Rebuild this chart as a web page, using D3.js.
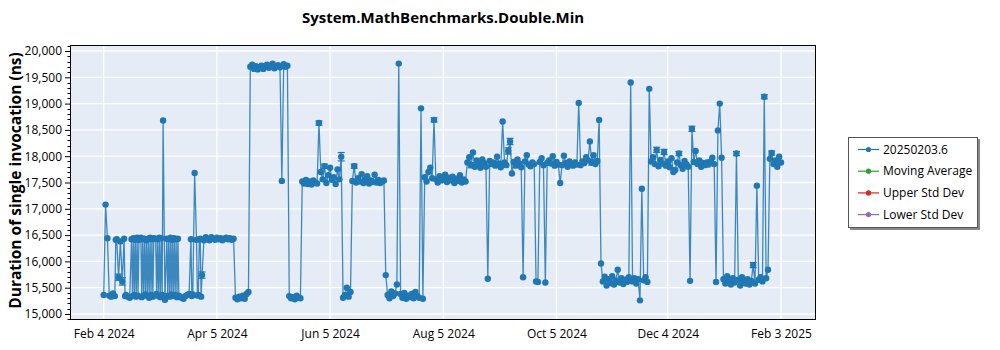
<!DOCTYPE html>
<html>
<head>
<meta charset="utf-8">
<script src="https://cdn.jsdelivr.net/npm/d3@7"></script>
<style>
  body { margin: 0; background: #ffffff; }
  text { font-family: "Open Sans", "Noto Sans", sans-serif; fill: #000; }
</style>
</head>
<body>
<svg id="chart" width="1000" height="350"></svg>
<script>
// ---- chart data ----
const chartTitle = "System.MathBenchmarks.Double.Min";
const yAxisTitle = "Duration of single invocation (ns)";
const legendNames = ["20250203.6", "Moving Average", "Upper Std Dev", "Lower Std Dev"];
const legendColors = ["#1f77b4", "#2ca02c", "#d62728", "#9467bd"];

// one scheduled run per day, starting on this date
const firstRunDate = "2024-02-04";
// minimum duration of each daily run (ns)
const durations = [
  // Feb 2024
  15360, 17080, 16440, 15350, 15330, 15390, 15340, 16420, 15700, 16380,
  15620, 16430, 15360, 15330, 15310, 16420, 16440, 16410, 16450, 16410,
  16450, 16420, 16430, 16400, 16430, 16450,
  // Mar
  16420, 16440, 16430, 16420, 16450, 16440, 18680, 15270, 16430, 16420,
  16450, 16410, 16440, 16420, 16430, 15330, 15310, 15290, 15340, 15360,
  15380, 16420, 15370, 17680, 16410, 15360, 16430, 15740, 16400, 16460,
  16420,
  // Apr
  16400, 16460, 16430, 16410, 16450, 16420, 16440, 16400, 16430, 16450,
  16420, 16440, 16410, 16430, 15310, 15280, 15330, 15300, 15350, 15290,
  15380, 15420, 19700, 19740, 19660, 19710, 19650, 19690, 19720, 19660,
  // May
  19710, 19740, 19680, 19700, 19760, 19670, 19710, 19730, 19690, 17530,
  19750, 19700, 19720, 15340, 15300, 15320, 15280, 15350, 15310, 15300,
  17520, 17480, 17550, 17470, 17520, 17460, 17540, 17500, 17480, 18630,
  17700,
  // Jun
  17560, 17810, 17490, 17640, 17780, 17550, 17600, 17470, 17750, 17560,
  17990, 15310, 15360, 15500, 15330, 15420, 17530, 17810, 17500, 17580,
  17520, 17660, 17490, 17560, 17620, 17480, 17540, 17510, 17650, 17500,
  // Jul
  17550, 17490, 17520, 17540, 15740, 15360, 15300, 15430, 15340, 15390,
  15560, 19760, 15380, 15310, 15400, 15290, 15350, 15320, 15380, 15300,
  15420, 15340, 15310, 18910, 15290, 17600, 17520, 17700, 17780, 17580,
  18690,
  // Aug
  17560, 17500, 17620, 17540, 17580, 17650, 17510, 17590, 17540, 17610,
  17490, 17570, 17530, 17640, 17500, 17560, 17520, 17880, 17980, 17830,
  18070, 17800, 17920, 17860, 17780, 17940, 17870, 17800, 15670, 17910,
  17850,
  // Sep
  17880, 17820, 17990, 17860, 17790, 18660, 17880, 17830, 18100, 18280,
  17670, 17890, 17820, 17940, 17860, 17790, 15700, 17900, 18020, 17840,
  17810, 17880, 17850, 15620, 15610, 17890, 17960, 17830, 15600, 17870,
  // Oct
  17920, 17860, 18000, 17820, 17890, 17840, 17490, 17830, 18010, 17870,
  17800, 17900, 17850, 17820, 17880, 17840, 19010, 17830, 17900, 17870,
  17980, 17920, 18280, 17880, 18020, 17850, 17910, 18690, 15960, 15620,
  15710,
  // Nov
  15540, 15660, 15590, 15720, 15560, 15640, 15840, 15600, 15680, 15570,
  15650, 15610, 15700, 19400, 15620, 15680, 15580, 15660, 15260, 17380,
  15640, 15700, 15610, 19280, 17900, 17980, 17850, 18120, 17810, 17930,
  // Dec
  17860, 18080, 17820, 17900, 17790, 17960, 17700, 17740, 17880, 18050,
  17830, 17760, 17910, 17850, 17800, 15630, 18520, 17890, 18100, 17850,
  17920, 17800, 17870, 17830, 17880, 17840, 17900, 17970, 17850, 15610,
  18490,
  // Jan 2025
  19000, 17970, 15660, 15580, 15720, 15620, 15560, 15680, 15600, 18050,
  15650, 15540, 15700, 15610, 15580, 15660, 15560, 15630, 15930, 15580,
  17440, 15650, 15700, 15620, 19130, 15680, 15840, 17950, 18060, 17850,
  17920,
  // Feb 2025
  17800, 17990, 17880
];

// additional mid-day runs: [days after first run, duration (ns)]
const extraRuns = [
  [6.5, 16410], [11.5, 15340],
  [15.5, 15340], [16.5, 15360], [17.5, 15330], [18.5, 15350], [20.5, 15320],
  [21.5, 15350], [22.5, 15370], [23.5, 15340], [24.5, 15310], [25.5, 15360],
  [26.5, 15330], [28.5, 15380], [29.5, 15340], [30.5, 15320], [31.5, 15360],
  [34.5, 15350], [35.5, 15330], [36.5, 15370], [37.5, 15340], [38.5, 15360],
  [39.5, 15320], [40.5, 15350],
  [47.5, 15340], [50.5, 15350], [51.5, 16420], [52.5, 15330]
];

// daily runs whose spread is wide enough to show: [day index, half-width (ns)]
const errorBars = [
  [8, 60], [10, 70], [53, 60], [116, 40], [119, 40], [128, 80], [135, 40],
  [178, 40], [198, 50], [218, 60], [219, 60], [263, 50], [298, 50],
  [302, 50], [310, 40], [317, 50], [341, 40], [350, 50], [356, 40], [360, 40]
];

const xTickDates = ["2024-02-04", "2024-04-05", "2024-06-05", "2024-08-05",
                    "2024-10-05", "2024-12-04", "2025-02-03"];
const xTickLabels = ["Feb 4 2024", "Apr 5 2024", "Jun 5 2024", "Aug 5 2024",
                     "Oct 5 2024", "Dec 4 2024", "Feb 3 2025"];
const yTicks = [15000, 15500, 16000, 16500, 17000, 17500, 18000, 18500, 19000, 19500, 20000];
const yMinorStep = 100;

// ---- layout ----
const svg = d3.select("#chart");
const plot = { left: 70, right: 816, top: 45, bottom: 320 };
const seriesColor = legendColors[0];

const parse = d3.utcParse("%Y-%m-%d");
const start = parse(firstRunDate);
const dayMs = 864e5;
const atOffset = off => new Date(start.getTime() + off * dayMs);

const daily = durations.map((v, i) => ({ date: atOffset(i), value: v }));
const points = daily
  .concat(extraRuns.map(([off, v]) => ({ date: atOffset(off), value: v })))
  .sort((a, b) => a.date - b.date);

const x = d3.scaleUtc()
  .domain([new Date(Date.UTC(2024, 0, 16, 19, 55)), new Date(Date.UTC(2025, 1, 21, 20, 50))])
  .range([plot.left, plot.right]);
const y = d3.scaleLinear()
  .domain([14886, 20114])
  .range([plot.bottom, plot.top]);

// plot background
svg.append("rect")
  .attr("x", plot.left).attr("y", plot.top)
  .attr("width", plot.right - plot.left).attr("height", plot.bottom - plot.top)
  .attr("fill", "#e5ecf6");

// grid
const grid = svg.append("g").attr("stroke", "#ffffff").attr("stroke-width", 1.3);
grid.selectAll("line.h").data(yTicks).join("line")
  .attr("x1", plot.left).attr("x2", plot.right)
  .attr("y1", d => y(d)).attr("y2", d => y(d));
grid.selectAll("line.v").data(xTickDates).join("line")
  .attr("y1", plot.top).attr("y2", plot.bottom)
  .attr("x1", d => x(parse(d))).attr("x2", d => x(parse(d)));

// series: error bars, line, markers
svg.append("clipPath").attr("id", "plotClip")
  .append("rect").attr("x", plot.left).attr("y", plot.top)
  .attr("width", plot.right - plot.left).attr("height", plot.bottom - plot.top);
const series = svg.append("g").attr("clip-path", "url(#plotClip)");

const eb = series.append("g").attr("stroke", seriesColor).attr("stroke-width", 1.2);
errorBars.forEach(([i, e]) => {
  const p = daily[i];
  const cx = x(p.date);
  eb.append("line").attr("x1", cx).attr("x2", cx).attr("y1", y(p.value - e)).attr("y2", y(p.value + e));
  eb.append("line").attr("x1", cx - 3.5).attr("x2", cx + 3.5).attr("y1", y(p.value + e)).attr("y2", y(p.value + e));
  eb.append("line").attr("x1", cx - 3.5).attr("x2", cx + 3.5).attr("y1", y(p.value - e)).attr("y2", y(p.value - e));
});

series.append("path")
  .datum(points)
  .attr("fill", "none")
  .attr("stroke", seriesColor)
  .attr("stroke-width", 1.3)
  .attr("stroke-opacity", 0.85)
  .attr("d", d3.line().x(d => x(d.date)).y(d => y(d.value)));

series.append("g").selectAll("circle").data(points).join("circle")
  .attr("cx", d => x(d.date)).attr("cy", d => y(d.value))
  .attr("r", 3.2).attr("fill", seriesColor);

// frame
svg.append("rect")
  .attr("x", plot.left + 0.5).attr("y", plot.top + 0.5)
  .attr("width", plot.right - plot.left - 1).attr("height", plot.bottom - plot.top - 1)
  .attr("fill", "none").attr("stroke", "#000").attr("stroke-width", 1);

// y axis (major + minor ticks)
const yAxis = d3.axisLeft(y).tickValues(yTicks).tickSize(5).tickPadding(3)
  .tickFormat(d3.format(","));
const yAxisG = svg.append("g").attr("transform", `translate(${plot.left},0)`).call(yAxis);
yAxisG.select(".domain").remove();
yAxisG.selectAll("text").attr("font-size", 12).style("font-family", '"Open Sans", "Noto Sans", sans-serif');
const minorTicks = d3.range(y.domain()[0], y.domain()[1], 1)
  .filter(v => v % yMinorStep === 0 && !yTicks.includes(v));
svg.append("g").attr("stroke", "#000").selectAll("line").data(minorTicks).join("line")
  .attr("x1", plot.left - 2.5).attr("x2", plot.left)
  .attr("y1", d => Math.round(y(d)) + 0.5).attr("y2", d => Math.round(y(d)) + 0.5);

// x axis labels
const xAxis = d3.axisBottom(x).tickValues(xTickDates.map(parse)).tickSize(0).tickPadding(9)
  .tickFormat((d, i) => xTickLabels[i]);
const xAxisG = svg.append("g").attr("transform", `translate(0,${plot.bottom})`).call(xAxis);
xAxisG.select(".domain").remove();
xAxisG.selectAll("text").attr("font-size", 12).style("font-family", '"Open Sans", "Noto Sans", sans-serif');

// titles
svg.append("text")
  .attr("x", (plot.left + plot.right) / 2).attr("y", 23)
  .attr("text-anchor", "middle").attr("font-weight", "bold").attr("font-size", 15)
  .text(chartTitle);
svg.append("text")
  .attr("transform", `translate(21,${(plot.top + plot.bottom) / 2 - 2}) rotate(-90)`)
  .attr("text-anchor", "middle").attr("font-weight", "bold").attr("font-size", 15.5)
  .text(yAxisTitle);

// legend
const lg = svg.append("g").attr("transform", "translate(848,137)");
lg.append("rect").attr("x", 2).attr("y", 2).attr("width", 130).attr("height", 91).attr("fill", "#8a8a8a");
lg.append("rect").attr("x", 0.5).attr("y", 0.5).attr("width", 129).attr("height", 90)
  .attr("fill", "#ffffff").attr("stroke", "#555").attr("stroke-width", 1);
legendNames.forEach((name, i) => {
  const cy = 12.5 + i * 21.7;
  lg.append("line").attr("x1", 10).attr("x2", 31).attr("y1", cy).attr("y2", cy)
    .attr("stroke", legendColors[i]).attr("stroke-width", 1.2);
  lg.append("circle").attr("cx", 20.5).attr("cy", cy).attr("r", 2.6).attr("fill", legendColors[i]);
  lg.append("text").attr("x", 35).attr("y", cy + 4.2).attr("font-size", 12).text(name);
});
</script>
</body>
</html>
